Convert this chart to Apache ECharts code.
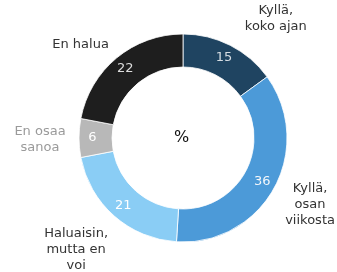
<!DOCTYPE html>
<html>
<head>
<meta charset="utf-8">
<script src="https://cdn.jsdelivr.net/npm/echarts@6/dist/echarts.min.js"></script>
<style>html,body{margin:0;padding:0;background:#fff}#c{width:337px;height:272px}</style>
</head>
<body>
<div id="c"></div>
<script>
const categories = ['Kyllä,\nkoko ajan', 'Kyllä,\nosan\nviikosta', 'Haluaisin,\nmutta en\nvoi', 'En osaa\nsanoa', 'En halua'];
const values = [15, 36, 21, 6, 22];
const colors = ['#1f4461', '#4c9ad8', '#8acdf5', '#b8b8b8', '#1e1e1e'];
const valueLabelColors = ['#d6dde3', '#f2f6fa', '#ffffff', '#ffffff', '#dddddd'];
const nameLabelColors = ['#333333', '#333333', '#333333', '#9a9a9a', '#333333'];
const nameNudge = [[27, 10], [0, -3], [-11, 3], [2, 2], [-10, 18]];

const chart = echarts.init(document.getElementById('c'));
const font = '"DejaVu Sans", sans-serif';
chart.setOption({
  animation: false,
  graphic: [{type: 'text', left: 174, top: 130, style: {text: '%', font: '16px "DejaVu Sans", sans-serif', fill: '#111'}}],
  series: [
    {
      type: 'pie', center: [183, 138], radius: [71, 104], startAngle: 90, clockwise: true,
      silent: true,
      itemStyle: {borderColor: 'rgba(255,255,255,0.8)', borderWidth: 1},
      label: {position: 'inside', formatter: '{c}', fontFamily: font, fontSize: 13},
      labelLine: {show: false},
      data: values.map((v, i) => ({value: v, name: categories[i], itemStyle: {color: colors[i]}, label: {color: valueLabelColors[i]}}))
    },
    {
      type: 'pie', center: [183, 138], radius: [128, 156], startAngle: 90, clockwise: true,
      silent: true,
      itemStyle: {color: 'rgba(0,0,0,0)'},
      label: {position: 'inside', formatter: '{b}', fontFamily: font, fontSize: 13, lineHeight: 16, align: 'center'},
      labelLine: {show: false},
      labelLayout: p => ({dx: nameNudge[p.dataIndex][0], dy: nameNudge[p.dataIndex][1]}),
      data: values.map((v, i) => ({value: v, name: categories[i], label: {color: nameLabelColors[i]}}))
    }
  ]
});
</script>
</body>
</html>
